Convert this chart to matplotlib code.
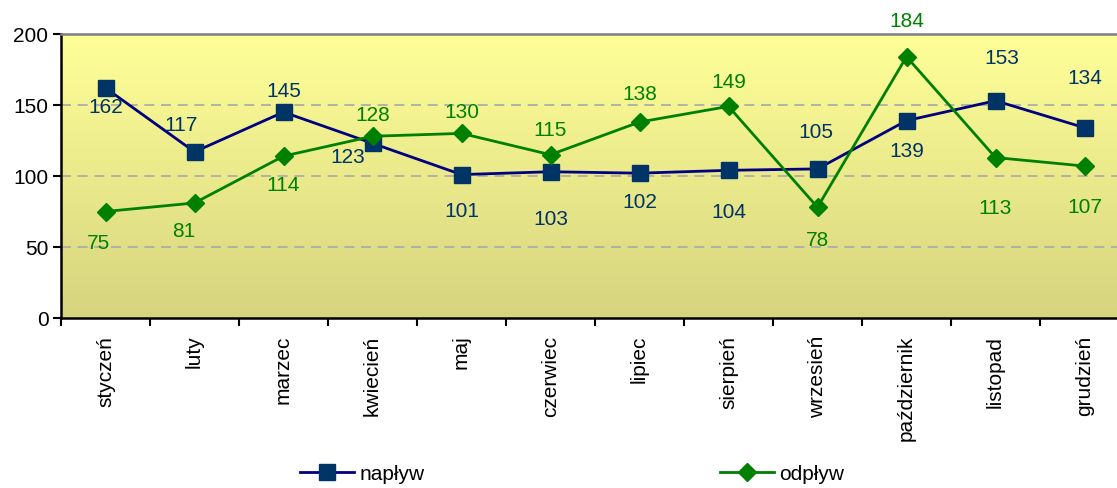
import numpy as np
import matplotlib
matplotlib.use("Agg")
import matplotlib.pyplot as plt
from matplotlib.colors import LinearSegmentedColormap
from matplotlib.lines import Line2D

months = ["styczeń", "luty", "marzec", "kwiecień", "maj", "czerwiec", "lipiec",
          "sierpień", "wrzesień", "październik", "listopad", "grudzień"]
naplyw = [162, 117, 145, 123, 101, 103, 102, 104, 105, 139, 153, 134]
odplyw = [75, 81, 114, 128, 130, 115, 138, 149, 78, 184, 113, 107]

# label offsets in pixels (dx, dy down-positive)
nap_off = [(0, 19), (-13, -27), (0, -22), (-25, 13), (0, 36), (0, 47), (0, 28),
           (0, 41), (-2, -37), (0, 30), (6, -43), (0, -50)]
odp_off = [(-7, 31), (-11, 28), (0, 28), (0, -22), (0, -22), (0, -25), (0, -29),
           (0, -25), (0, 32), (0, -36), (0, 50), (0, 40)]

plt.rcParams['font.family'] = ['Liberation Sans', 'DejaVu Sans']

W, H = 1117, 489
fig = plt.figure(figsize=(W / 100, H / 100), dpi=100)
ax = fig.add_axes([61 / W, (H - 319) / H, 1068 / W, 284 / H])

x = np.arange(len(months))
ax.set_xlim(-0.5, 11.5)
ax.set_ylim(0, 200)

cmap = LinearSegmentedColormap.from_list("bg", ["#D6D47E", "#FFFF99"])
grad = np.linspace(0, 1, 256).reshape(-1, 1)
ax.imshow(grad, extent=[-0.5, 11.5, 0, 200], origin="lower", aspect="auto",
          cmap=cmap, zorder=0)

for yv in (50, 100, 150):
    ax.axhline(yv, color="#A8A8A8", lw=1.2, dashes=(6, 4), zorder=1)

nav = "#000080"
navm = "#003366"
grn = "#008000"
ax.plot(x, naplyw, color=nav, lw=2, marker="s", ms=11, mfc=navm, mec=navm,
        zorder=3, label="napływ")
ax.plot(x, odplyw, color=grn, lw=2, marker="D", ms=9, mfc=grn, mec=grn,
        zorder=3, label="odpływ")

for i, v in enumerate(naplyw):
    dx, dy = nap_off[i]
    ax.annotate(str(v), (x[i], v), xytext=(dx, -dy), textcoords="offset pixels",
                ha="center", va="center", fontsize=15, color=navm, zorder=4,
                annotation_clip=False)
for i, v in enumerate(odplyw):
    dx, dy = odp_off[i]
    ax.annotate(str(v), (x[i], v), xytext=(dx, -dy), textcoords="offset pixels",
                ha="center", va="center", fontsize=15, color=grn, zorder=4,
                annotation_clip=False)

ax.set_yticks([0, 50, 100, 150, 200])
ax.tick_params(axis="y", direction="out", length=6, width=1.5, labelsize=15, pad=3)
ax.set_xticks(np.arange(-0.5, 12, 1))
ax.set_xticklabels([])
ax.set_xticks(x, minor=True)
ax.set_xticklabels(months, minor=True, rotation=90, fontsize=15)
ax.tick_params(axis="x", which="major", direction="out", length=6, width=1.5)
ax.tick_params(axis="x", which="minor", length=0, pad=12)

for s in ("left", "bottom"):
    ax.spines[s].set_color("black")
    ax.spines[s].set_linewidth(1.8)
ax.spines["top"].set_color("#808080")
ax.spines["top"].set_linewidth(1.8)
ax.spines["right"].set_visible(False)

h1 = Line2D([], [], color=nav, lw=2, marker="s", ms=11, mfc=navm, mec=navm)
h2 = Line2D([], [], color=grn, lw=2, marker="D", ms=9, mfc=grn, mec=grn)
fig.legend([h1], ["napływ"], loc="center left", bbox_to_anchor=(300 / W, 1 - 475 / H),
           frameon=False, fontsize=15, handlelength=2.6, handletextpad=0.25,
           borderaxespad=0, borderpad=0)
fig.legend([h2], ["odpływ"], loc="center left", bbox_to_anchor=(720 / W, 1 - 475 / H),
           frameon=False, fontsize=15, handlelength=2.6, handletextpad=0.25,
           borderaxespad=0, borderpad=0)

fig.savefig("out.png", dpi=100)
